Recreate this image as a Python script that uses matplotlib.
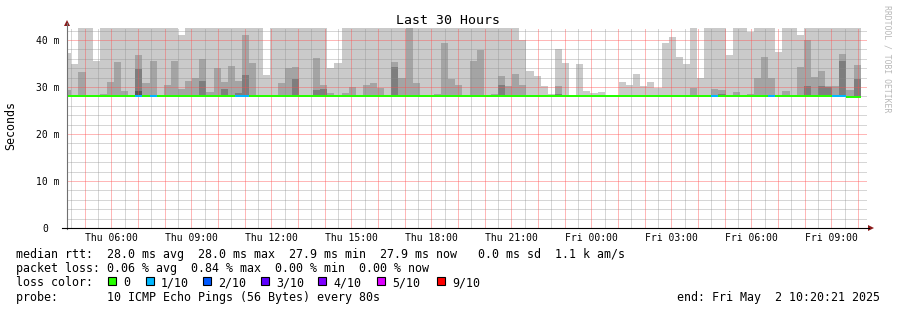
import numpy as np
import matplotlib
matplotlib.use("Agg")
import matplotlib.pyplot as plt
from matplotlib.patches import Rectangle, Polygon
from matplotlib.lines import Line2D
from matplotlib.transforms import Affine2D
from datetime import datetime, timedelta

# ---------------- data ----------------
title = "Last 30 Hours"
y_label = "Seconds"
watermark = "RRDTOOL / TOBI OETIKER"
start_time = datetime(2025, 5, 1, 4, 20, 21)
end_time = datetime(2025, 5, 2, 10, 20, 21)
last_bin_end = datetime(2025, 5, 2, 10, 6, 0)
bin_minutes = 16

# smoke: sorted ping round-trip times per 16-min bin (ms)
ping_max = [
    37.3, 34.8, 42.6, 42.6, 35.5, 42.6, 42.6, 42.6, 42.6, 42.6,
    42.6, 42.6, 42.6, 42.6, 42.6, 42.6, 41.1, 42.6, 42.6, 42.6,
    42.6, 42.6, 42.6, 42.6, 42.6, 42.6, 42.6, 42.6, 32.6, 42.6,
    42.6, 42.6, 42.6, 42.6, 42.6, 42.6, 42.6, 34.1, 35.2, 42.6,
    42.6, 42.6, 42.6, 42.6, 42.6, 42.6, 42.6, 42.6, 42.6, 42.6,
    42.6, 42.6, 42.6, 42.6, 42.6, 42.6, 42.6, 42.6, 42.6, 42.6,
    42.6, 42.6, 42.6, 42.6, 40.0, 33.5, 32.3, 30.2, 28.6, 38.0,
    35.0, 28.1, 34.8, 29.2, 28.8, 29.0, 28.1, 28.1, 31.1, 30.5,
    32.8, 30.3, 31.1, 29.7, 39.4, 40.6, 36.4, 34.8, 42.6, 32.0,
    42.6, 42.6, 42.6, 36.8, 42.6, 42.6, 41.8, 42.6, 42.6, 42.6,
    37.5, 42.6, 42.6, 41.1, 42.6, 42.6, 42.6, 42.6, 42.6, 42.6,
    42.6, 42.6]
ping_9th = [
    29.4, 28.0, 33.1, 28.0, 28.0, 28.5, 31.1, 35.4, 29.2, 28.0,
    36.9, 30.9, 35.5, 28.0, 30.5, 35.5, 29.6, 31.3, 31.9, 36.0,
    28.9, 34.0, 31.1, 34.5, 31.3, 41.1, 35.0, 28.0, 28.0, 28.0,
    30.8, 34.0, 34.3, 28.0, 28.0, 36.1, 30.5, 28.8, 28.0, 28.8,
    29.9, 28.0, 30.5, 30.8, 29.8, 28.0, 35.3, 31.9, 42.6, 30.8,
    28.0, 28.0, 28.5, 39.4, 31.8, 30.4, 28.0, 35.5, 37.9, 28.0,
    28.5, 32.3, 30.2, 32.8, 30.4, 28.0, 28.0, 28.0, 28.4, 30.2,
    28.0, 28.0, 28.0, 28.4, 28.0, 28.0, 28.0, 28.0, 28.0, 28.0,
    28.0, 28.0, 28.0, 28.0, 28.0, 28.0, 28.0, 28.0, 29.8, 28.4,
    28.0, 29.6, 29.4, 28.0, 28.9, 28.0, 28.5, 32.0, 36.3, 32.0,
    28.0, 29.2, 28.0, 34.2, 40.0, 32.1, 33.4, 30.2, 30.2, 37.0,
    29.4, 34.7]
ping_8th = [
    28.3, 28.0, 28.0, 28.0, 28.0, 28.0, 28.0, 28.0, 28.0, 28.0,
    33.9, 28.0, 28.0, 28.0, 28.0, 28.0, 28.0, 28.0, 28.0, 31.3,
    28.0, 28.0, 29.6, 28.0, 28.8, 32.6, 28.0, 28.0, 28.0, 28.0,
    28.0, 28.0, 31.8, 28.0, 28.0, 29.4, 29.5, 28.0, 28.0, 28.4,
    28.0, 28.0, 28.0, 28.0, 28.0, 28.0, 34.3, 28.0, 28.0, 28.0,
    28.0, 28.0, 28.0, 28.0, 28.0, 28.0, 28.0, 28.0, 28.0, 28.0,
    28.0, 30.4, 28.0, 28.0, 28.0, 28.0, 28.0, 28.0, 28.0, 28.5,
    28.0, 28.0, 28.0, 28.0, 28.0, 28.0, 28.0, 28.0, 28.0, 28.0,
    28.0, 28.0, 28.0, 28.0, 28.0, 28.0, 28.0, 28.0, 28.0, 28.0,
    28.0, 28.0, 28.5, 28.0, 28.0, 28.0, 28.0, 28.0, 28.0, 28.0,
    28.0, 28.0, 28.0, 28.0, 30.2, 28.0, 30.2, 30.0, 28.0, 35.5,
    28.0, 31.6]
ping_7th = [
    28.0, 28.0, 28.0, 28.0, 28.0, 28.0, 28.0, 28.0, 28.0, 28.0,
    29.2, 28.0, 28.0, 28.0, 28.0, 28.0, 28.0, 28.0, 28.0, 28.0,
    28.0, 28.0, 28.0, 28.0, 28.0, 28.0, 28.0, 28.0, 28.0, 28.0,
    28.0, 28.0, 28.0, 28.0, 28.0, 28.0, 28.0, 28.0, 28.0, 28.0,
    28.0, 28.0, 28.0, 28.0, 28.0, 28.0, 28.0, 28.0, 28.0, 28.0,
    28.0, 28.0, 28.0, 28.0, 28.0, 28.0, 28.0, 28.0, 28.0, 28.0,
    28.0, 28.0, 28.0, 28.0, 28.0, 28.0, 28.0, 28.0, 28.0, 28.0,
    28.0, 28.0, 28.0, 28.0, 28.0, 28.0, 28.0, 28.0, 28.0, 28.0,
    28.0, 28.0, 28.0, 28.0, 28.0, 28.0, 28.0, 28.0, 28.0, 28.0,
    28.0, 28.0, 28.0, 28.0, 28.0, 28.0, 28.0, 28.0, 28.0, 28.0,
    28.0, 28.0, 28.0, 28.0, 28.0, 28.0, 28.0, 28.0, 28.0, 28.0,
    28.0, 28.0]
median_rtt = [
    28.0, 28.0, 28.0, 28.0, 28.0, 28.0, 28.0, 28.0, 28.0, 28.0,
    28.0, 28.0, 28.0, 28.0, 28.0, 28.0, 28.0, 28.0, 28.0, 28.0,
    28.0, 28.0, 28.0, 28.0, 28.0, 28.0, 28.0, 28.0, 28.0, 28.0,
    28.0, 28.0, 28.0, 28.0, 28.0, 28.0, 28.0, 28.0, 28.0, 28.0,
    28.0, 28.0, 28.0, 28.0, 28.0, 28.0, 28.0, 28.0, 28.0, 28.0,
    28.0, 28.0, 28.0, 28.0, 28.0, 28.0, 28.0, 28.0, 28.0, 28.0,
    28.0, 28.0, 28.0, 28.0, 28.0, 28.0, 28.0, 28.0, 28.0, 28.0,
    28.0, 28.0, 28.0, 28.0, 28.0, 28.0, 28.0, 28.0, 28.0, 28.0,
    28.0, 28.0, 28.0, 28.0, 28.0, 28.0, 28.0, 28.0, 28.0, 28.0,
    28.0, 28.0, 28.0, 28.0, 28.0, 28.0, 28.0, 28.0, 28.0, 28.0,
    28.0, 28.0, 28.0, 28.0, 28.0, 28.0, 28.0, 28.0, 28.0, 28.0,
    27.9, 27.9]
loss_count = [
    0, 0, 0, 0, 0, 0, 0, 0, 0, 0,
    1, 0, 1, 0, 0, 0, 0, 0, 0, 0,
    0, 0, 0, 0, 1, 1, 0, 0, 0, 0,
    0, 0, 0, 0, 0, 0, 0, 0, 0, 0,
    0, 0, 0, 0, 0, 0, 0, 0, 0, 0,
    0, 0, 0, 0, 0, 0, 0, 0, 0, 0,
    0, 0, 0, 0, 0, 0, 0, 0, 0, 0,
    0, 0, 0, 0, 0, 0, 0, 0, 0, 0,
    0, 0, 0, 0, 0, 0, 0, 0, 0, 0,
    0, 1, 0, 0, 0, 0, 0, 0, 0, 1,
    0, 0, 0, 0, 0, 0, 0, 0, 1, 1,
    0, 0]

y_ticks = [0, 10, 20, 30, 40]
y_tick_labels = ["0  ", "10 m", "20 m", "30 m", "40 m"]
x_tick_times = [datetime(2025, 5, 1, 6), datetime(2025, 5, 1, 9), datetime(2025, 5, 1, 12),
                datetime(2025, 5, 1, 15), datetime(2025, 5, 1, 18), datetime(2025, 5, 1, 21),
                datetime(2025, 5, 2, 0), datetime(2025, 5, 2, 3), datetime(2025, 5, 2, 6),
                datetime(2025, 5, 2, 9)]
x_tick_labels = ["Thu 06:00", "Thu 09:00", "Thu 12:00", "Thu 15:00", "Thu 18:00",
                 "Thu 21:00", "Fri 00:00", "Fri 03:00", "Fri 06:00", "Fri 09:00"]

loss_levels = [0, 1, 2, 3, 4, 5, 9]
loss_labels = ["0", "1/10", "2/10", "3/10", "4/10", "5/10", "9/10"]
loss_colors = ["#26ff00", "#00b8ff", "#0059ff", "#5e00ff", "#7e00ff", "#dd00ff", "#ff0000"]

legend_rtt = "median rtt:  28.0 ms avg  28.0 ms max  27.9 ms min  27.9 ms now   0.0 ms sd  1.1 k am/s"
legend_loss = "packet loss: 0.06 % avg  0.84 % max  0.00 % min  0.00 % now"
legend_color = "loss color:"
legend_probe = "probe:       10 ICMP Echo Pings (56 Bytes) every 80s"
legend_end = "end: Fri May  2 10:20:21 2025"

# ---------------- layout ----------------
W, H = 897, 310
L, R, T, B = 67, 867, 28, 228
Y_TOP = 42.55
MONO = "DejaVu Sans Mono"

fig = plt.figure(figsize=(W / 100, H / 100), dpi=100)
fig.patch.set_facecolor("white")
pix = Affine2D().scale(1 / W, -1 / H).translate(0, 1) + fig.transFigure

ax = fig.add_axes([L / W, 1 - B / H, (R - L) / W, (B - T) / H])
ax.set_facecolor("white")
for s in ax.spines.values():
    s.set_visible(False)
ax.set_xticks([])
ax.set_yticks([])


def hrs(t):
    return (t - start_time).total_seconds() / 3600.0


span = hrs(end_time)
ax.set_xlim(0, span)
ax.set_ylim(0, Y_TOP)

n = len(ping_max)
bin_ends = [last_bin_end - timedelta(minutes=bin_minutes * (n - 1 - i)) for i in range(n)]
edges = np.array([hrs(bin_ends[0] - timedelta(minutes=bin_minutes))] + [hrs(t) for t in bin_ends])


def stepv(v):
    v = np.asarray(v, dtype=float)
    return np.append(v, v[-1])


base = stepv(median_rtt)
shades = [(ping_max, "#cacaca"), (ping_9th, "#a4a4a4"), (ping_8th, "#7e7e7e"), (ping_7th, "#585858")]
for z, (vals, col) in enumerate(shades):
    ax.fill_between(edges, base, stepv(vals), step="post", color=col, lw=0,
                    antialiased=False, zorder=1 + z)

# grid (dotted 1:1, crisp)
grid_c = (0.55, 0.55, 0.55, 0.35)
mgrid_c = (1.0, 0.30, 0.30, 0.40)
dot = (0, (1, 1))
gkw = dict(lw=0.72, ls=dot, antialiased=False)
t = datetime(2025, 5, 1, 4, 30)
while t < end_time:
    h = hrs(t)
    if t.minute == 0:
        ax.axvline(h, color=mgrid_c, zorder=6, **gkw)
    else:
        ax.axvline(h, color=grid_c, zorder=5, **gkw)
    t += timedelta(minutes=30)
for v in range(2, 43, 2):
    if v % 10 == 0:
        ax.axhline(v, color=mgrid_c, zorder=6, **gkw)
    else:
        ax.axhline(v, color=grid_c, zorder=5, **gkw)

# median line coloured by loss
line_cols = [loss_colors[loss_levels.index(c)] for c in loss_count]
ax.hlines(median_rtt, edges[:-1], edges[1:], colors=line_cols, lw=1.44, zorder=8,
          antialiased=False)

# axes lines and arrows
fig.add_artist(Line2D([L, L], [B + 1, T - 5], transform=pix, color="#707070", lw=0.8))
fig.add_artist(Line2D([L - 5, R + 2], [B, B], transform=pix, color="#000000", lw=0.8))
fig.add_artist(Polygon([(L - 3, T - 2), (L + 3, T - 2), (L, T - 8)], closed=True,
                       transform=pix, color="#8b1a1a", lw=0))
fig.add_artist(Polygon([(R + 1, B - 3), (R + 1, B + 3), (R + 7, B)], closed=True,
                       transform=pix, color="#8b1a1a", lw=0))

# y tick labels
for v, lab in zip(y_ticks, y_tick_labels):
    ypx = B - (B - T) * v / Y_TOP
    fig.text(60 - len(lab) * 5.89, ypx + 4, lab.rstrip(), transform=pix, ha="left",
             va="baseline", fontsize=7.05, family=MONO)

# x tick labels
for tt, lab in zip(x_tick_times, x_tick_labels):
    xpx = L + (R - L) * hrs(tt) / span
    fig.text(xpx, 241, lab, transform=pix, ha="center", va="baseline",
             fontsize=7.05, family=MONO)

# title, axis label, watermark
fig.text(448, 24.5, title, transform=pix, ha="center", va="baseline", fontsize=9.5, family=MONO)
fig.text(11, 126, y_label, transform=pix, ha="center", va="center", rotation=90,
         fontsize=8.4, family=MONO)
fig.text(887, 59, watermark, transform=pix, ha="center", va="center", rotation=270,
         fontsize=5.9, family=MONO, color="#b8b8b8")

# legend
fs = 8.4
fig.text(16, 258.3, legend_rtt, transform=pix, ha="left", va="baseline", fontsize=fs, family=MONO)
fig.text(16, 272.3, legend_loss, transform=pix, ha="left", va="baseline", fontsize=fs, family=MONO)
fig.text(16, 286.3, legend_color, transform=pix, ha="left", va="baseline", fontsize=fs, family=MONO)
fig.text(16, 300.5, legend_probe, transform=pix, ha="left", va="baseline", fontsize=fs, family=MONO)
fig.text(880, 300.5, legend_end, transform=pix, ha="right", va="baseline", fontsize=fs, family=MONO)

box_x = [108, 146, 203, 261, 318, 377, 437]
for bx, lab, col in zip(box_x, loss_labels, loss_colors):
    fig.add_artist(Rectangle((bx, 276.5), 8, 8, transform=pix, facecolor=col,
                             edgecolor="black", lw=0.8))
    fig.text(bx + 15, 286.3, lab, transform=pix, ha="left", va="baseline",
             fontsize=fs, family=MONO)

fig.savefig("out.png", dpi=100, facecolor="white")
